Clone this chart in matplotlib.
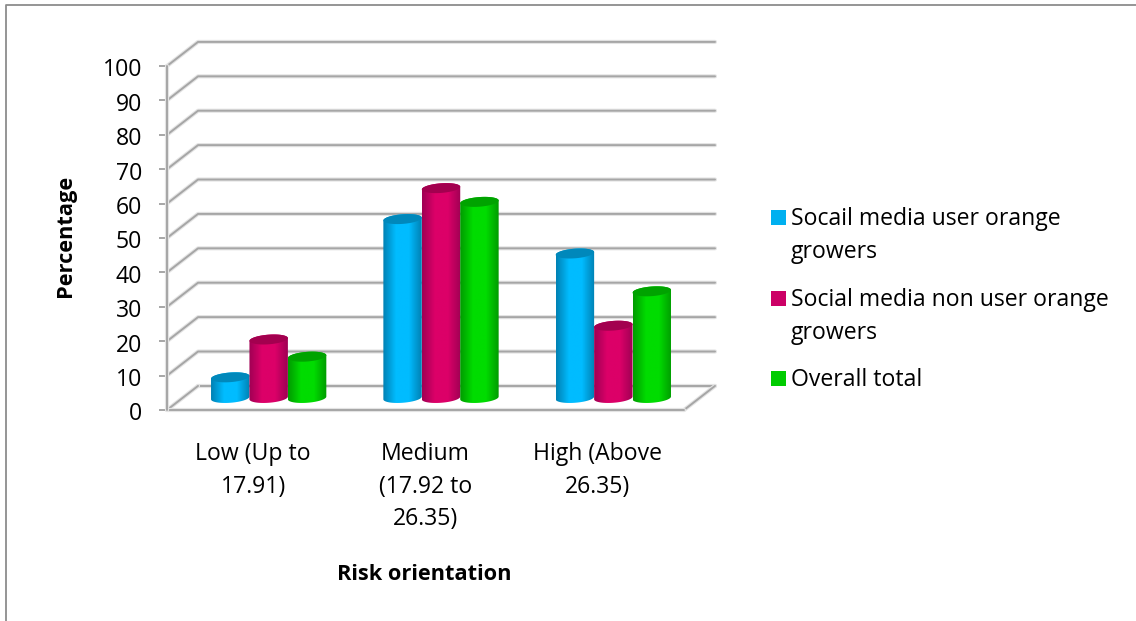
""" risk orientation of orange growers, as a fake 3d cylinder chart """

from matplotlib import pyplot as plt
from matplotlib import patheffects
from matplotlib.colors import LinearSegmentedColormap
from matplotlib.lines import Line2D
from matplotlib.patches import Polygon, Rectangle
from matplotlib.transforms import ScaledTranslation
from numpy import array, column_stack, concatenate, cos, linspace, pi, sin

categories = ["Low (Up to\n17.91)", "Medium\n(17.92 to\n26.35)", "High (Above\n26.35)"]
series_names = [
	"Socail media user orange\ngrowers",
	"Social media non user orange\ngrowers",
	"Overall total",
]
user_values = [6, 52, 42]
non_user_values = [17, 61, 21]
total_values = [12, 57, 31]
y_ticks = list(range(0, 101, 10))

edge_colors = ["#0081b4", "#a00054", "#009c00"]
center_colors = ["#00bcff", "#dc0068", "#00dc00"]
top_colors = ["#0088bb", "#a3004f", "#00a300"]
legend_colors = ["#00b0f0", "#cc0066", "#00cc00"]
legend_y = [217, 298, 378]

GRID_COLOR = "#a6a6a6"
FONT = "Open Sans"
FONT_SIZE = 16.6
BOLD_SIZE = 15.7
WIDTH, HEIGHT = 1136, 621
# the fake depth of the box, in data units
DEPTH_X = 0.18
DEPTH_Y = 7
BAR_WIDTH = 0.223
CAP_HEIGHT = 1.4
CAP_TILT = 0.4

plt.rcParams["font.family"] = [FONT, "DejaVu Sans"]
plt.rcParams["font.size"] = FONT_SIZE

fig = plt.figure(figsize=(WIDTH/100, HEIGHT/100), dpi=100)
ax = fig.add_axes((167/WIDTH, 1 - 410/HEIGHT, 517/WIDTH, 344/HEIGHT))
ax.set_xlim(-0.5, 2.5)
ax.set_ylim(0, 100)
ax.patch.set_alpha(0)


def soft_line(xs, ys, **kwargs) -> None:
	""" draw one grey box line with the blurry halo that it has in the picture """
	ax.plot(
		xs, ys, color=GRID_COLOR, linewidth=1.4, clip_on=False, solid_capstyle="round",
		path_effects=[patheffects.withStroke(linewidth=3, foreground="#e4e4e4")], **kwargs)


def draw_cylinder(x: float, value: float, series: int) -> None:
	"""
	draw one shaded cylinder standing in the middle of the floor
	:param x: the horizontal centre of the cylinder
	:param value: the height of the cylinder
	:param series: the index of the series, which sets the colours
	"""
	base = DEPTH_Y/2
	top = base + value
	half_width = BAR_WIDTH/2

	# the outline is the lower half of the bottom cap and the upper half of the top cap
	t_low = linspace(pi, 2*pi, 40)
	t_high = linspace(0, pi, 40)
	outline = column_stack([
		concatenate([x + half_width*cos(t_low), x + half_width*cos(t_high)]),
		concatenate([
			base + CAP_HEIGHT*sin(t_low) + CAP_TILT*cos(t_low),
			top + CAP_HEIGHT*sin(t_high) + CAP_TILT*cos(t_high),
		]),
	])
	clip = Polygon(outline, closed=True, transform=ax.transData)
	cmap = LinearSegmentedColormap.from_list(
		"cylinder", [edge_colors[series], center_colors[series], center_colors[series], edge_colors[series]])
	image = ax.imshow(
		linspace(0, 1, 64).reshape(1, -1), cmap=cmap, aspect="auto", zorder=3 + series*0.1,
		extent=(x - half_width, x + half_width, base - 3, top + 3), interpolation="bilinear")
	image.set_clip_path(clip)

	t = linspace(0, 2*pi, 80)
	ax.fill(
		x + half_width*cos(t), top + CAP_HEIGHT*sin(t) + CAP_TILT*cos(t),
		color=top_colors[series], linewidth=0, zorder=3.05 + series*0.1)


# the walls and floor of the box
for tick in y_ticks[1:]:
	soft_line([-0.5, -0.5 + DEPTH_X, 2.5 + DEPTH_X], [tick, tick + DEPTH_Y, tick + DEPTH_Y], zorder=1)
soft_line([-0.5 + DEPTH_X, 2.5 + DEPTH_X], [DEPTH_Y, DEPTH_Y], zorder=1)
soft_line([-0.5, -0.5 + DEPTH_X], [0, DEPTH_Y], zorder=1)
soft_line([2.5, 2.5 + DEPTH_X], [0, DEPTH_Y], zorder=1)
soft_line([-0.5, 2.5], [0, 0], zorder=2)
soft_line([-0.5, -0.5], [0, 100], zorder=2)

for series_index, values in enumerate([user_values, non_user_values, total_values]):
	for category_index, value in enumerate(values):
		x_center = category_index + DEPTH_X/2 + (series_index - 1)*BAR_WIDTH
		draw_cylinder(x_center, value, series_index)
ax.set_xlim(-0.5, 2.5)
ax.set_ylim(0, 100)

for side in ["top", "right", "bottom", "left"]:
	ax.spines[side].set_visible(False)
ax.set_yticks(y_ticks)
ax.set_xticks(range(len(categories)), categories, linespacing=1.48)
ax.tick_params(axis="y", length=6, width=1.4, color=GRID_COLOR, pad=12)
ax.tick_params(axis="x", length=0, pad=23)
# the number labels sit a little lower on their ticks than matplotlib puts them
for label in ax.get_yticklabels():
	label.set_transform(label.get_transform() + ScaledTranslation(0, -1/72, fig.dpi_scale_trans))

fig.text(65/WIDTH, 1 - 236/HEIGHT, "Percentage", rotation=90, weight="bold", ha="center", va="center", size=BOLD_SIZE)
fig.text(424/WIDTH, 1 - 574/HEIGHT, "Risk orientation", weight="bold", ha="center", va="center", size=BOLD_SIZE)

for name, color, y in zip(series_names, legend_colors, legend_y):
	fig.add_artist(Rectangle(
		(771/WIDTH, 1 - (y + 8)/HEIGHT), 15/WIDTH, 15/HEIGHT, color=color, linewidth=0,
		transform=fig.transFigure))
	fig.text(791/WIDTH, 1 - (y - 10)/HEIGHT, name, ha="left", va="top", linespacing=1.48)

# the frame around the whole chart, which runs off the right and bottom of the picture
fig.add_artist(Line2D(
	array([5.5, 5.5, WIDTH])/WIDTH, 1 - array([HEIGHT, 4.5, 4.5])/HEIGHT, color="#8c8c8c", linewidth=1.3))

fig.savefig("out.png", dpi=100)
